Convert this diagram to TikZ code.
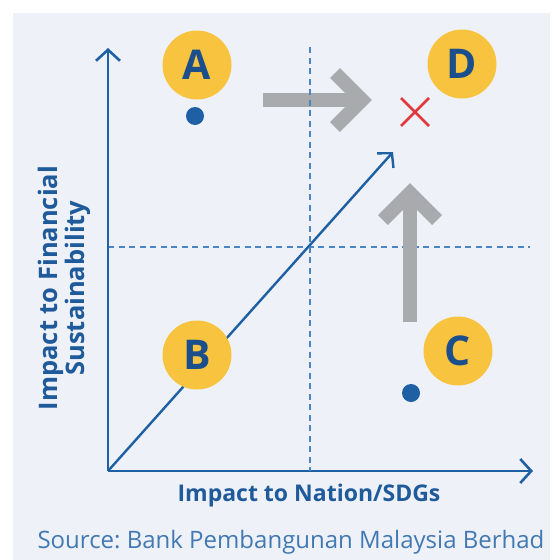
\documentclass[tikz,border=0pt]{standalone}
\usepackage{fontspec}
\setmainfont{Open Sans}
\usetikzlibrary{arrows.meta,calc}
\frenchspacing
\definecolor{panel}{HTML}{EEF2F8}
\definecolor{axisblue}{HTML}{1F5FA3}
\definecolor{dashblue}{HTML}{4A86C5}
\definecolor{letterblue}{HTML}{1B4F8C}
\definecolor{labelblue}{HTML}{1F5A9A}
\definecolor{sourceblue}{HTML}{4279B3}
\definecolor{badge}{HTML}{F8C440}
\definecolor{moveGray}{HTML}{A8AAAD}
\definecolor{markRed}{HTML}{E0383E}
\tikzset{
  axisline/.style={draw=axisblue, line width=2.8pt, -{Straight Barb[length=11pt,width=24pt,line width=2.6pt]}},
  guide/.style={draw=dashblue, line width=1.6pt, dash pattern=on 6pt off 4.5pt},
  badgenode/.style={circle, fill=badge, minimum size=69pt, inner sep=0pt,
    text=letterblue, font=\fontsize{41}{41}\selectfont\bfseries},
  dotnode/.style={circle, fill=axisblue, minimum size=18pt, inner sep=0pt},
  movearrow/.style={draw=moveGray, line width=14pt},
  movehead/.style={draw=moveGray, line width=14pt, miter limit=10},
  axislabel/.style={text=labelblue, font=\fontsize{23}{26}\selectfont\bfseries, align=center},
}
\begin{document}
\begin{tikzpicture}[x=1pt,y=-1pt]
  \useasboundingbox (0,0) rectangle (560,560);
  \fill[white] (0,0) rectangle (560,560);
  \fill[panel] (13,13) rectangle (550,560);

  % quadrant guides
  \draw[guide] (108,247) -- (530,247);

  % axes and diagonal path
  \coordinate (O) at (108,471);
  \coordinate (ytip) at (108,48);
  \coordinate (xtip) at (533,471);
  \coordinate (dtip) at (393,152);
  \draw[axisline] (O) -- (ytip);
  \draw[axisline] (O) -- (xtip);
  \draw[axisline, line width=2.4pt, -{Straight Barb[length=10pt,width=22pt,line width=2.4pt]}] (O) -- (dtip);

  % movement arrows
  \coordinate (hs) at (263,100);
  \coordinate (hv) at (362,100);
  \draw[movearrow] (hs) -- (hv);
  \draw[movehead] (335,73) -- (hv) -- (335,127);
  \coordinate (vs) at (410,322);
  \coordinate (vv) at (410,193);
  \draw[movearrow] (vs) -- (vv);
  \draw[movehead] (383,220) -- (vv) -- (437,220);

  \draw[guide] (310,47) -- (310,471);

  % markers
  \node[dotnode] (dotA) at (195,116) {};
  \node[dotnode] (dotC) at (411,393) {};
  \coordinate (xc) at (415,112);
  \draw[markRed, line width=2.6pt] ($(xc)+(-14,-14)$) -- ($(xc)+(14,14)$);
  \draw[markRed, line width=2.6pt] ($(xc)+(-14,14)$) -- ($(xc)+(14,-14)$);

  % labels
  \node[badgenode] (A) at (197,65) {A};
  \node[badgenode] (D) at (462,64) {D};
  \node[badgenode] (B) at (197,355) {B};
  \node[badgenode] (C) at (458,351) {C};

  \node[axislabel, rotate=90, font=\fontsize{25.5}{27}\selectfont\bfseries] (ylab) at (64,288) {Impact to Financial\\Sustainability};
  \node[axislabel] (xlab) at (309,496) {Impact to Nation/SDGs};
  \node[text=sourceblue, font=\fontsize{24}{26}\selectfont] (src) at (291,542) {Source: Bank Pembangunan Malaysia Berhad};
\end{tikzpicture}
\end{document}
